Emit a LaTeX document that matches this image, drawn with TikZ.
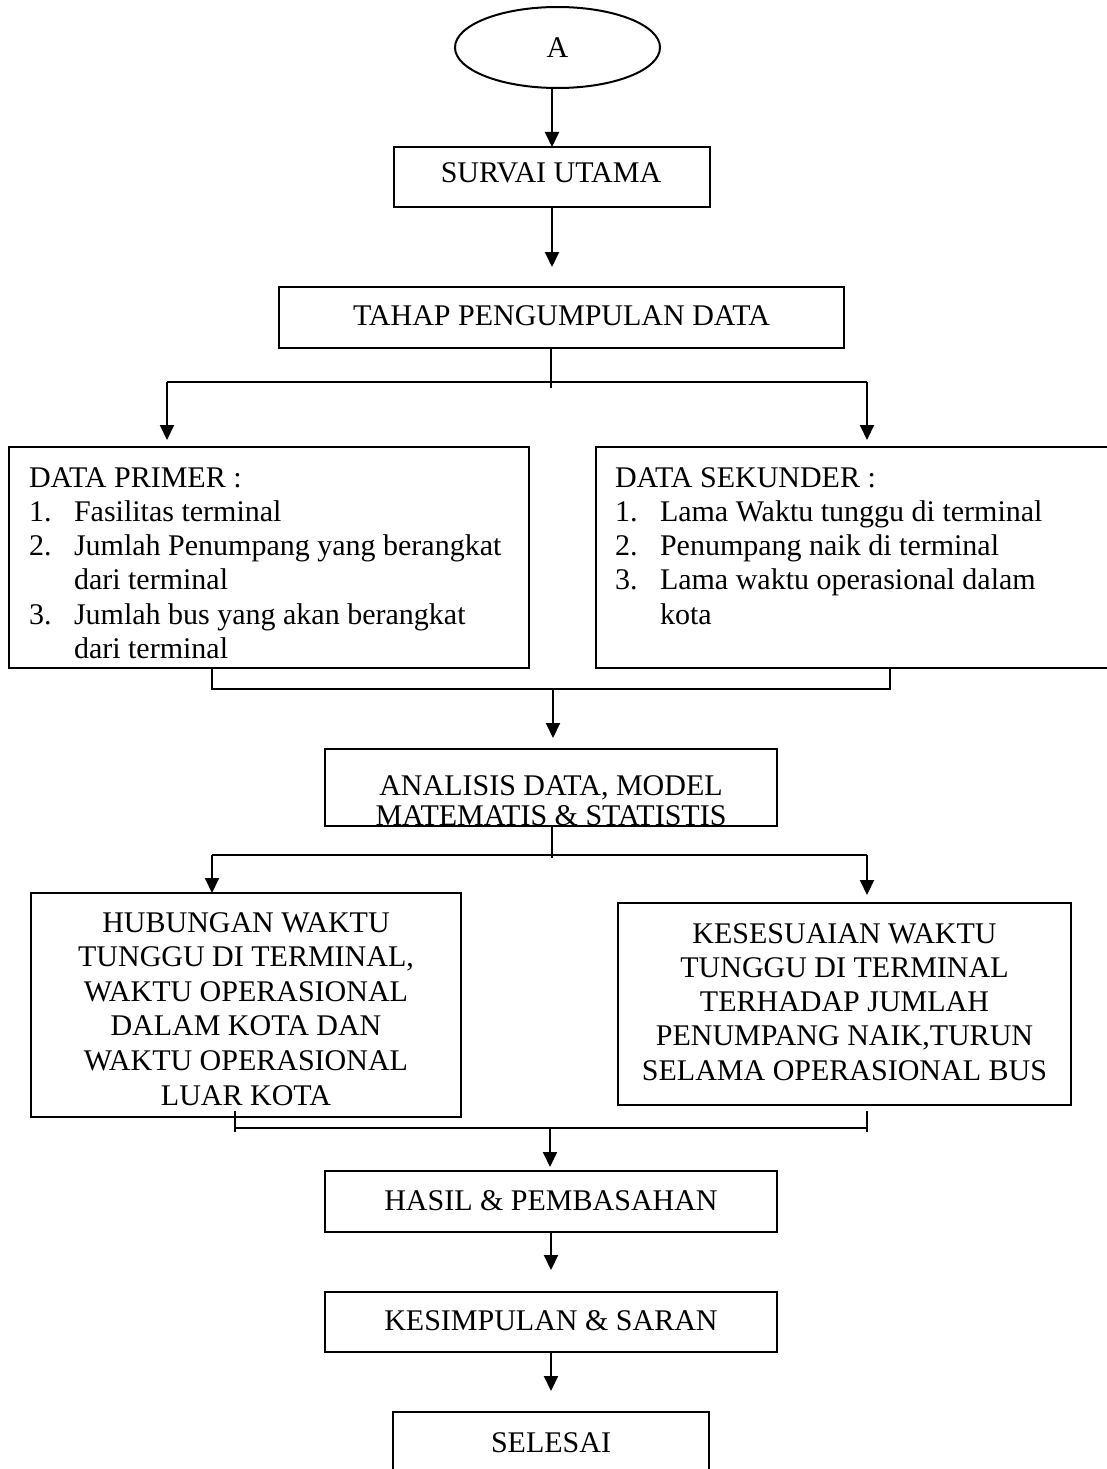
\documentclass[tikz,border=0pt]{standalone}
\usepackage{fontspec}
\setmainfont{Liberation Serif}
\usetikzlibrary{arrows.meta,shapes.geometric}

\begin{document}
\begin{tikzpicture}[x=1pt,y=-1pt,
  line width=2pt,
  every node/.style={inner sep=0pt, outer sep=0pt},
  txt/.style={font=\fontsize{30}{34.3}\selectfont},
  box/.style={draw, rectangle, line width=2pt, minimum width=#1},
  arr/.style={-{Triangle[length=15pt,width=14pt]}}
]
% canvas
\fill[white] (0,0) rectangle (1107,1469);
\useasboundingbox (0,0) rectangle (1107,1469);
\clip (0,0) rectangle (1107,1469);

% ---------- boxes ----------
\node[draw, ellipse, line width=2pt, minimum width=205pt, minimum height=81pt, txt] (a) at (557.5,47.5) {A};
\node[box=316pt, minimum height=60pt] (survai) at (552,177) {};
\node[box=565pt, minimum height=61pt] (tahap) at (561.5,317.5) {};
\node[box=520pt, minimum height=221pt] (primer) at (269,557.5) {};
\node[box=534pt, minimum height=221pt] (sekunder) at (863,557.5) {};
\node[box=452pt, minimum height=77pt] (analisis) at (551,787.5) {};
\node[box=430pt, minimum height=224pt] (hubungan) at (246,1005) {};
\node[box=453pt, minimum height=202pt] (kesesuaian) at (844.5,1004) {};
\node[box=452pt, minimum height=61pt] (hasil) at (551,1201.5) {};
\node[box=452pt, minimum height=60pt] (kesimpulan) at (551,1322) {};
\node[box=316pt, minimum height=78pt] (selesai) at (551,1451) {};

% ---------- texts ----------
\node[txt, anchor=base] (survaiT) at (551,182) {SURVAI UTAMA};
\node[txt, anchor=base] (tahapT) at (561.5,325) {TAHAP PENGUMPULAN DATA};
\node[txt, anchor=base west] (primerT) at (29,487) {%
  \begin{tabular}[t]{@{}l@{}l@{}}
  \multicolumn{2}{@{}l@{}}{DATA PRIMER :}\\
  \makebox[45pt][l]{1.} & Fasilitas terminal\\
  \makebox[45pt][l]{2.} & Jumlah Penumpang yang berangkat\\
   & dari terminal\\
  \makebox[45pt][l]{3.} & Jumlah bus yang akan berangkat\\
   & dari terminal
  \end{tabular}};
\node[txt, anchor=base west] (sekunderT) at (615,487) {%
  \begin{tabular}[t]{@{}l@{}l@{}}
  \multicolumn{2}{@{}l@{}}{DATA SEKUNDER :}\\
  \makebox[45pt][l]{1.} & Lama Waktu tunggu di terminal\\
  \makebox[45pt][l]{2.} & Penumpang naik di terminal\\
  \makebox[45pt][l]{3.} & Lama waktu operasional dalam\\
   & kota
  \end{tabular}};
\node[font=\fontsize{30}{30}\selectfont, anchor=base] (analisisT) at (551,795) {%
  \begin{tabular}[t]{@{}c@{}}
  ANALISIS DATA, MODEL\\
  MATEMATIS \& STATISTIS
  \end{tabular}};
\node[font=\fontsize{30}{34.6}\selectfont, anchor=base] (hubunganT) at (246,932) {%
  \begin{tabular}[t]{@{}c@{}}
  HUBUNGAN WAKTU\\
  TUNGGU DI TERMINAL,\\
  WAKTU OPERASIONAL\\
  DALAM KOTA DAN\\
  WAKTU OPERASIONAL\\
  LUAR KOTA
  \end{tabular}};
\node[txt, anchor=base] (kesesuaianT) at (844.5,943) {%
  \begin{tabular}[t]{@{}c@{}}
  KESESUAIAN WAKTU\\
  TUNGGU DI TERMINAL\\
  TERHADAP JUMLAH\\
  PENUMPANG NAIK,TURUN\\
  SELAMA OPERASIONAL BUS
  \end{tabular}};
\node[txt, anchor=base] (hasilT) at (551,1210) {HASIL \& PEMBASAHAN};
\node[txt, anchor=base] (kesimpulanT) at (551,1330) {KESIMPULAN \& SARAN};
\node[txt, anchor=base] (selesaiT) at (551,1452) {SELESAI};

% ---------- junction points ----------
\coordinate (j1) at (551,382);
\coordinate (j1t) at (551,388);
\coordinate (j1l) at (167,382);
\coordinate (j1r) at (867,382);
\coordinate (m1) at (553,689);
\coordinate (m1l) at (212,689);
\coordinate (m1r) at (890,689);
\coordinate (j2) at (552,855);
\coordinate (j2t) at (552,858);
\coordinate (j2l) at (212,855);
\coordinate (j2r) at (867,855);
\coordinate (m2) at (550,1128);
\coordinate (m2l) at (235,1128);
\coordinate (m2r) at (867,1128);
\coordinate (t2la) at (235,1111);
\coordinate (t2lb) at (235,1132);
\coordinate (t2ra) at (867,1111);
\coordinate (t2rb) at (867,1132);

% ---------- connectors ----------
\draw[arr] (a.south -| survai.north) -- (survai.north);
\draw[arr, shorten >=20pt] (survai.south) -- (survai.south |- tahap.north);

\draw (j1 |- tahap.south) -- (j1t);
\draw (j1l) -- (j1r);
\draw[arr, shorten >=7pt] (j1l) -- (j1l |- primer.north);
\draw[arr, shorten >=7pt] (j1r) -- (j1r |- sekunder.north);

\draw (m1l |- primer.south) -- (m1l) -- (m1r) -- (m1r |- sekunder.south);
\draw[arr, shorten >=11pt] (m1) -- (m1 |- analisis.north);

\draw (j2 |- analisis.south) -- (j2t);
\draw (j2l) -- (j2r);
\draw[arr] (j2l) -- (j2l |- hubungan.north);
\draw[arr, shorten >=8pt] (j2r) -- (j2r |- kesesuaian.north);

\draw (t2la) -- (t2lb);
\draw (t2ra) -- (t2rb);
\draw (m2l) -- (m2r);
\draw[arr, shorten >=4pt] (m2) -- (m2 |- hasil.north);

\draw[arr, shorten >=22pt] (hasil.south) -- (kesimpulan.north);
\draw[arr, shorten >=21pt] (kesimpulan.south) -- (selesai.north);
\end{tikzpicture}
\end{document}
